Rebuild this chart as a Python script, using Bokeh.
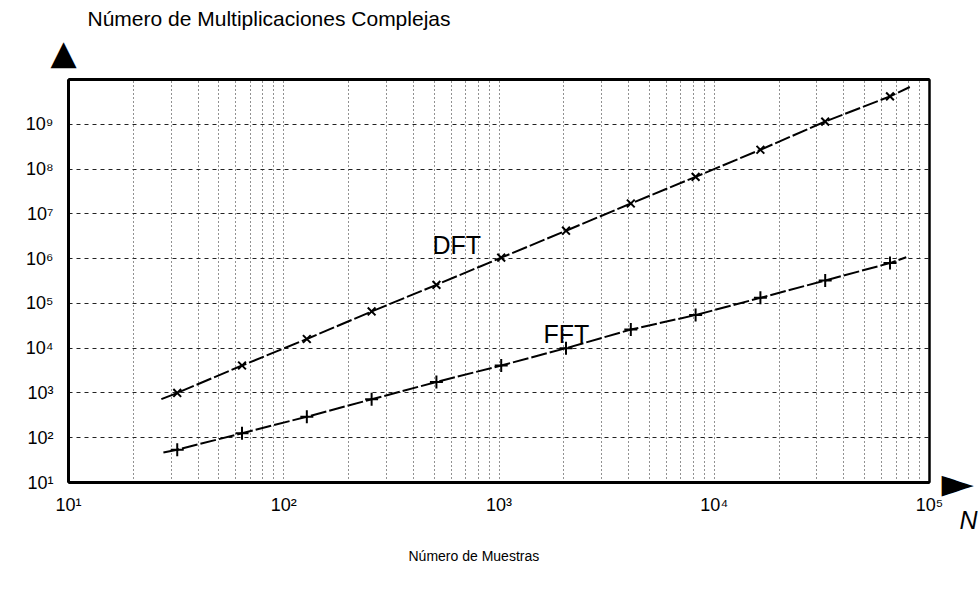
from bokeh.plotting import figure
from bokeh.models import (LogAxis, FixedTicker, Label, Title)
from bokeh.embed import file_html
from bokeh.resources import INLINE

# ---------------- data ----------------
n_points = [32, 64, 128, 256, 512, 1024, 2048, 4096, 8192, 16384, 32768, 65536]
dft_values = [1.0e3, 4.1e3, 1.6e4, 6.6e4, 2.6e5, 1.05e6, 4.2e6, 1.7e7, 6.7e7, 2.7e8, 1.15e9, 4.2e9]
fft_values = [54, 126, 294, 720, 1760, 4100, 1.0e4, 2.6e4, 5.5e4, 1.33e5, 3.25e5, 7.95e5]

# curve extents (line runs a little beyond the first/last marker)
dft_line_n = [27, 32, 64, 128, 256, 512, 1024, 2048, 4096, 8192, 16384, 32768, 65536, 81000]
dft_line_v = [730, 1.0e3, 4.1e3, 1.6e4, 6.6e4, 2.6e5, 1.05e6, 4.2e6, 1.7e7, 6.7e7, 2.7e8, 1.15e9, 4.2e9, 6.8e9]
fft_line_n = [27.6, 32, 64, 128, 256, 512, 1024, 2048, 4096, 8192, 16384, 32768, 65536, 78000]
fft_line_v = [47, 54, 126, 294, 720, 1760, 4100, 1.0e4, 2.6e4, 5.5e4, 1.33e5, 3.25e5, 7.95e5, 1.07e6]

x_ticks = [10, 100, 1000, 10000, 100000]
x_tick_labels = ["10¹", "10²", "10³", "10⁴", "10⁵"]
y_ticks = [10, 100, 1000, 10000, 100000, 1000000, 10000000, 100000000, 1000000000, 10000000000]
y_tick_labels = ["10¹", "10²", "10³", "10⁴", "10⁵", "10⁶", "10⁷", "10⁸", "10⁹", ""]
minor_mult = [2, 3, 4, 5, 6, 7, 8, 9]

title_text = "Número de Multiplicaciones Complejas"
xlabel_text = "Número de Muestras"
x_var_text = "N"

# ---------------- layout ----------------
W, H = 978, 589
FL, FR, FT, FB = 68, 929, 79, 496          # frame edges in canvas px
X0, X1, Y0, Y1 = 10, 1e5, 10, 1e10
FONT = "Liberation Sans"

p = figure(width=W, height=H, x_axis_type="log", y_axis_type="log",
           x_range=(X0, X1), y_range=(Y0, Y1), title=None,
           output_backend="svg", toolbar_location=None,
           min_border_left=FL, min_border_right=W - FR,
           min_border_top=FT, min_border_bottom=H - FB)
p.background_fill_color = "white"
p.border_fill_color = "white"
p.outline_line_color = "black"
p.outline_line_width = 2

minor_x = [m * d for d in x_ticks[:-1] for m in minor_mult]
p.xaxis.ticker = FixedTicker(ticks=x_ticks, minor_ticks=minor_x)
p.yaxis.ticker = FixedTicker(ticks=y_ticks)
p.xaxis.major_label_overrides = dict(zip(x_ticks, x_tick_labels))
p.yaxis.major_label_overrides = dict(zip(y_ticks, y_tick_labels))

for ax in (p.xaxis[0], p.yaxis[0]):
    ax.axis_line_color = "black"
    ax.axis_line_width = 3
    ax.major_tick_line_color = None
    ax.minor_tick_line_color = None
    ax.major_tick_out = 0
    ax.minor_tick_out = 0
    ax.major_label_text_font = FONT
    ax.major_label_text_font_size = "18px"
    ax.major_label_text_color = "black"
p.xaxis.major_label_standoff = 12
p.yaxis.major_label_standoff = 15


def bare_axis(width):
    return LogAxis(ticker=FixedTicker(ticks=[]), axis_line_color="black", axis_line_width=width,
                   major_tick_line_color=None, minor_tick_line_color=None,
                   major_tick_out=0, minor_tick_out=0, major_label_standoff=0,
                   major_label_text_font_size="0px")


top_axis = bare_axis(3)
p.add_layout(top_axis, "above")

right_axis = bare_axis(2)
right_axis.axis_label = "►"
right_axis.axis_label_orientation = "horizontal"
right_axis.axis_label_standoff = 12
right_axis.axis_label_text_font = "DejaVu Sans"
right_axis.axis_label_text_font_size = "42px"
right_axis.axis_label_text_font_style = "normal"
right_axis.axis_label_text_color = "black"
right_axis.axis_label_align = "start"
p.add_layout(right_axis, "right")

# arrow head of the vertical axis, then the heading above it
p.add_layout(Title(text="▲", align="left", offset=-18, standoff=16, text_font="DejaVu Sans",
                   text_font_size="34px", text_font_style="normal", text_color="black"), "above")
p.add_layout(Title(text=title_text, align="left", offset=19, standoff=-16, text_font=FONT,
                   text_font_size="21px", text_font_style="normal", text_color="black"), "above")

# variable name and axis title below the x axis
p.add_layout(Title(text=x_var_text, align="right", offset=-48, standoff=-28, text_font=FONT,
                   text_font_size="25px", text_font_style="italic", text_color="black"), "below")
p.add_layout(Title(text=xlabel_text, align="left", offset=340, standoff=52,
                   text_font="Liberation Sans Narrow, Liberation Sans",
                   text_font_size="14px", text_font_style="normal", text_color="black"), "below")

p.xgrid.grid_line_color = "#222222"
p.xgrid.grid_line_dash = "1 3"
p.xgrid.minor_grid_line_color = "#222222"
p.xgrid.minor_grid_line_dash = "1 3"
p.ygrid.grid_line_color = "#222222"
p.ygrid.grid_line_dash = "4 4"

# ---------------- series ----------------
p.line(dft_line_n, dft_line_v, line_color="black", line_width=2, line_dash="16 3")
p.line(fft_line_n, fft_line_v, line_color="black", line_width=2, line_dash="16 3")
p.scatter(n_points, dft_values, marker="x", size=11, line_color="black", line_width=2)
p.scatter(n_points, fft_values, marker="cross", size=13, line_color="black", line_width=2)

p.add_layout(Label(x=432, y=244, x_units="canvas", y_units="canvas", text="DFT",
                   text_align="left", text_baseline="middle",
                   text_font=FONT, text_font_size="25px", text_color="black"))
p.add_layout(Label(x=543, y=333, x_units="canvas", y_units="canvas", text="FFT",
                   text_align="left", text_baseline="middle",
                   text_font=FONT, text_font_size="25px", text_color="black"))

open("out.html", "w").write(file_html(p, INLINE))
